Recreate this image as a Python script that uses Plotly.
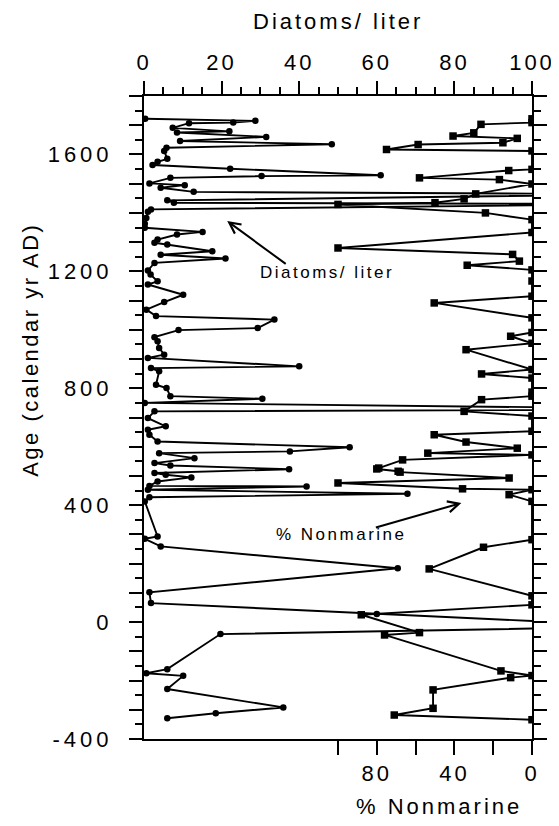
import plotly.graph_objects as go

# ---------------- data ----------------
diatom_age = [1722, 1715, 1709, 1707, 1691, 1679, 1675, 1660, 1646, 1635, 1623, 1612,
              1585, 1575, 1564, 1551, 1529, 1526, 1520, 1501, 1495, 1486, 1472, 1464,
              1443, 1435, 1430, 1412, 1404, 1383, 1363, 1349, 1335, 1326, 1309, 1298,
              1292, 1269, 1257, 1244, 1229, 1203, 1189, 1166, 1155, 1120, 1095, 1069,
              1047, 1035, 1006, 999, 975, 961, 938, 915, 904, 875, 869, 858, 812, 801,
              773, 764, 750, 728, 721, 698, 670, 658, 641, 618, 598, 584, 578, 561, 544,
              536, 523, 510, 504, 495, 481, 466, 464, 453, 439, 427, 413, 293, 285, 259,
              184, 102, 65, 28, -15, -41, -161, -175, -184, -229, -292, -312, -329]
diatom_val = [0.3, 28.7, 23, 11.6, 7.4, 22, 8.5, 31.5, 9.3, 48.4, 5.8, 5.2,
              6, 3.5, 2.2, 22.2, 61, 30.3, 6.8, 1.4, 10.5, 4.3, 12.8, 130,
              6, 7.7, 130, 1.8, 1, 0.6, 0.2, 0.2, 15.1, 8.5, 3.5, 2.7,
              6, 17.6, 4.3, 21, 2.7, 1, 1.7, 3.5, 1, 10.1, 5.2, 0.6,
              3.1, 33.6, 29.3, 8.9, 2.7, 3.5, 3.9, 5.2, 1, 40, 1.8, 3.9, 3.1, 5.8,
              6.8, 30.5, 0.2, 150, 2.7, 1, 5.6, 1, 1.4, 3.5, 53, 37.6, 3.9, 13, 2.7,
              6.8, 37.4, 2.7, 5.6, 12.2, 3.5, 1.4, 41.9, 1, 67.9, 1.4, 0.2, 3.5, 0.2, 4.3,
              65.4, 1.4, 1.8, 60, 130, 19.7, 6, 0.6, 10.1, 6, 35.9, 18.5, 6]

nonmarine_age = [1722, 1709, 1703, 1674, 1663, 1655, 1640, 1634, 1617, 1612, 1549, 1545,
                 1520, 1514, 1499, 1465, 1448, 1435, 1429, 1400, 1377, 1333, 1280, 1258,
                 1235, 1221, 1205, 1167, 1115, 1092, 1041, 991, 978, 954, 932, 864, 849,
                 835, 787, 773, 761, 721, 705, 653, 641, 616, 595, 578, 572, 555, 527,
                 524, 516, 513, 493, 476, 456, 453, 436, 413, 282, 256, 182, 90, 59, 25,
                 -36, -44, -167, -183, -190, -232, -295, -318, -334]
nonmarine_pct = [0, 0, 26.3, 30, 40.7, 7.6, 15, 58.7, 75, 0, 0, 12,
                 58, 16.8, 0, 29, 35, 50, 100, 24, 0, 0, 100, 10,
                 6.5, 33.4, 0, 0, 0, 50.4, 0, 0, 11, 0, 34, 0, 26,
                 0, 0, 0, 26, 35, 0, 0, 50.4, 34, 7.6, 53.7, 0, 66.7, 79,
                 80, 69, 68, 11.8, 100, 35.8, 0, 11.8, 0, 0, 25, 53, 0, 0, 88,
                 58, 76, 16, 0, 11, 51, 51, 71, 0]

age_ticks = [-400, 0, 400, 800, 1200, 1600]
diatom_ticks = [0, 20, 40, 60, 80, 100]
nonmarine_ticks = [0, 20, 40, 60, 80, 100]
nonmarine_labels = ["0", "", "40", "", "80", ""]

# ---------------- layout helpers ----------------
W, H = 559, 826
L, R, T, B = 136, 22, 88, 95
PW, PH = W - L - R, H - T - B
FONT = "Liberation Sans, Arial, Helvetica, sans-serif"


def px(x):
    return (x - L) / PW


def py(y):
    return (H - B - y) / PH


def spaced(s, sp):
    return "<span style='letter-spacing:%spx'>%s</span>" % (sp, s) if s else ""


fig = go.Figure()

fig.add_trace(go.Scatter(
    x=diatom_val, y=diatom_age, xaxis="x", yaxis="y", mode="lines+markers",
    line=dict(color="black", width=1.9),
    marker=dict(symbol="circle", size=6.5, color="black"),
    name="Diatoms/ liter", showlegend=False))

fig.add_trace(go.Scatter(
    x=nonmarine_pct, y=nonmarine_age, xaxis="x2", yaxis="y", mode="lines+markers",
    line=dict(color="black", width=1.9),
    marker=dict(symbol="square", size=7.5, color="black"),
    name="% Nonmarine", showlegend=False))

y_major = list(range(-400, 1801, 100))
y_text = [spaced(str(v), 4) if v in age_ticks else "" for v in y_major]

TS = 3
tickfont = dict(family=FONT, size=22, color="black")

fig.update_layout(
    width=W, height=H, autosize=False,
    margin=dict(l=L, r=R, t=T, b=B),
    paper_bgcolor="white", plot_bgcolor="white",
    xaxis=dict(side="top", range=[0, 100], tickvals=diatom_ticks,
               ticktext=[spaced(str(v), TS) for v in diatom_ticks],
               ticks="outside", ticklen=13, tickwidth=2, tickcolor="black",
               minor=dict(dtick=5, tick0=0, ticklen=7, tickwidth=2, tickcolor="black", ticks="outside"),
               showline=True, linecolor="black", linewidth=2, showgrid=False, zeroline=False,
               tickfont=tickfont, ticklabelstandoff=2),
    xaxis2=dict(side="bottom", overlaying="x", range=[200, 0], tickvals=nonmarine_ticks,
                ticktext=[spaced(t, TS) for t in nonmarine_labels], ticks="outside", ticklen=14,
                tickwidth=2, tickcolor="black", showline=True, linecolor="black", linewidth=2,
                showgrid=False, zeroline=False, tickfont=tickfont, ticklabelstandoff=0),
    yaxis=dict(range=[-400, 1800], tickvals=y_major, ticktext=y_text,
               ticks="outside", ticklen=13, tickwidth=2, tickcolor="black",
               minor=dict(dtick=50, tick0=0, ticklen=7, tickwidth=2, tickcolor="black", ticks="outside"),
               showline=True, mirror="ticks", linecolor="black", linewidth=2,
               showgrid=False, zeroline=False, tickfont=tickfont, ticklabelstandoff=12),
)

ann_font = dict(family=FONT, size=22, color="black")
small_font = dict(family=FONT, size=17, color="black")

fig.add_annotation(text=spaced("Diatoms/ liter", 3), xref="paper", yref="paper",
                   x=px(336), y=py(14), showarrow=False, font=ann_font,
                   xanchor="center", yanchor="middle")
fig.add_annotation(text=spaced("% Nonmarine", 3), xref="paper", yref="paper",
                   x=px(441), y=py(798), showarrow=False, font=ann_font,
                   xanchor="center", yanchor="middle")
fig.add_annotation(text=spaced("Age (calendar yr AD)", 2.5), xref="paper", yref="paper",
                   x=px(18), y=py(342), showarrow=False, font=ann_font, textangle=-90,
                   xanchor="center", yanchor="middle")

fig.add_annotation(text=spaced("Diatoms/ liter", 2.5), xref="paper", yref="paper",
                   x=px(325), y=py(264), showarrow=False, font=small_font,
                   xanchor="center", yanchor="middle")
fig.add_annotation(text=spaced("% Nonmarine", 2.5), xref="paper", yref="paper",
                   x=px(340), y=py(526), showarrow=False, font=small_font,
                   xanchor="center", yanchor="middle")

fig.add_annotation(text="", xref="paper", yref="paper", x=px(222), y=py(213),
                   ax=60, ay=44, showarrow=True, arrowhead=5, arrowsize=1.1,
                   arrowwidth=2, arrowcolor="black")
fig.add_annotation(text="", xref="paper", yref="paper", x=px(464), y=py(495),
                   ax=-87, ay=25, showarrow=True, arrowhead=5, arrowsize=1.1,
                   arrowwidth=2, arrowcolor="black")

fig.write_html("out.html")
